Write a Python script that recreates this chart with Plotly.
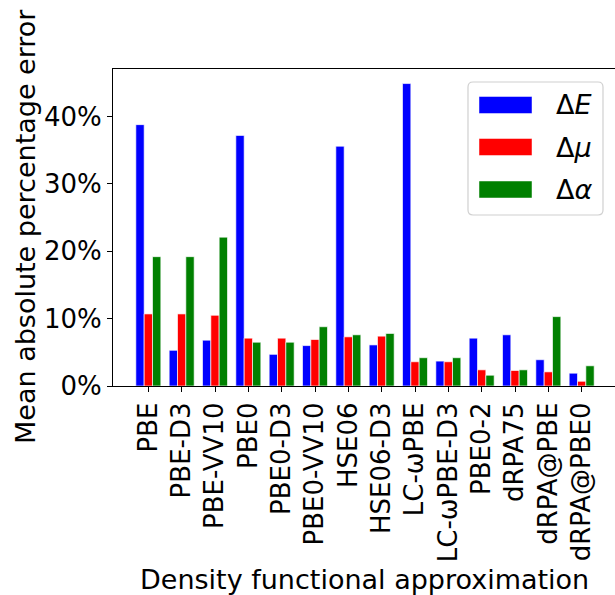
import plotly.graph_objects as go

# Mean absolute percentage errors per density functional approximation
functionals = ["PBE", "PBE-D3", "PBE-VV10", "PBE0", "PBE0-D3", "PBE0-VV10",
               "HSE06", "HSE06-D3", "LC-ωPBE", "LC-ωPBE-D3", "PBE0-2",
               "dRPA75", "dRPA@PBE", "dRPA@PBE0"]
err_energy = [38.8, 5.3, 6.8, 37.2, 4.7, 6.0, 35.6, 6.1, 44.9, 3.7, 7.1, 7.6, 3.9, 1.9]
err_dipole = [10.7, 10.7, 10.5, 7.1, 7.1, 6.9, 7.3, 7.4, 3.6, 3.6, 2.4, 2.3, 2.1, 0.7]
err_polar = [19.2, 19.2, 22.1, 6.5, 6.5, 8.8, 7.6, 7.8, 4.2, 4.2, 1.6, 2.4, 10.3, 3.0]
y_tick_values = [0, 10, 20, 30, 40]
y_tick_labels = ["0%", "10%", "20%", "30%", "40%"]
series_names = ["Δ<i>E</i>", "Δ<i>μ</i>", "Δ<i>α</i>"]
series_colors = ["#0000ff", "#ff0000", "#008000"]

W, H = 615, 595
L, R, T, B = 113, 0, 69, 209
plot_w = W - L - R
plot_h = H - T - B

FONT = "DejaVu Sans"
FS = 26

fig = go.Figure()
for name, vals, col in zip(series_names, [err_energy, err_dipole, err_polar], series_colors):
    fig.add_trace(go.Bar(
        x=functionals, y=vals, name=name,
        marker=dict(color=col, line=dict(color="rgba(255,255,255,0.8)", width=0.8)),
        showlegend=False,
    ))


def px_x(p):
    return (p - L) / plot_w


def px_y(p):
    return (H - B - p) / plot_h


fig.update_layout(
    width=W, height=H,
    margin=dict(l=L, r=R, t=T, b=B),
    paper_bgcolor="white", plot_bgcolor="white",
    barmode="group", bargap=0.25, bargroupgap=0.0,
    font=dict(family=FONT, size=FS, color="black"),
    xaxis=dict(
        type="category", range=[-1.06, 14.0],
        showline=True, linecolor="black", linewidth=1.2, mirror=True,
        ticks="outside", ticklen=5, tickcolor="black", tickwidth=1.2,
        tickangle=-90, showgrid=False, zeroline=False, automargin=False,
        tickfont=dict(family=FONT, size=FS, color="black"),
    ),
    yaxis=dict(
        range=[0, 47.06],
        tickmode="array", tickvals=y_tick_values, ticktext=y_tick_labels,
        showline=True, linecolor="black", linewidth=1.2, mirror=False,
        ticks="outside", ticklen=5, tickcolor="black", tickwidth=1.2,
        showgrid=False, zeroline=False, automargin=False,
        tickfont=dict(family=FONT, size=FS, color="black"),
    ),
)

# Axis titles
fig.add_annotation(text="Density functional approximation", xref="paper", yref="paper",
                   x=0.5, y=px_y(579), xanchor="center", yanchor="middle",
                   showarrow=False, font=dict(family=FONT, size=27, color="black"))
fig.add_annotation(text="Mean absolute percentage error", xref="paper", yref="paper",
                   x=px_x(25), y=px_y(227), xanchor="center", yanchor="middle", textangle=-90,
                   showarrow=False, font=dict(family=FONT, size=27, color="black"))

# Legend drawn as a framed box with wide colour patches
bx0, bx1, by0, by1, rad = 468, 603, 82, 215, 5
fx = lambda p: px_x(p)
fy = lambda p: px_y(p)
path = (f"M {fx(bx0 + rad)},{fy(by0)} L {fx(bx1 - rad)},{fy(by0)} "
        f"Q {fx(bx1)},{fy(by0)} {fx(bx1)},{fy(by0 + rad)} "
        f"L {fx(bx1)},{fy(by1 - rad)} Q {fx(bx1)},{fy(by1)} {fx(bx1 - rad)},{fy(by1)} "
        f"L {fx(bx0 + rad)},{fy(by1)} Q {fx(bx0)},{fy(by1)} {fx(bx0)},{fy(by1 - rad)} "
        f"L {fx(bx0)},{fy(by0 + rad)} Q {fx(bx0)},{fy(by0)} {fx(bx0 + rad)},{fy(by0)} Z")
fig.add_shape(type="path", path=path, xref="paper", yref="paper",
              fillcolor="rgba(255,255,255,0.8)", line=dict(color="#d0d0d0", width=1.2))
legend_centers = [105, 147, 189.5]
for name, col, cy in zip(series_names, series_colors, legend_centers):
    fig.add_shape(type="rect", xref="paper", yref="paper",
                  x0=px_x(479), x1=px_x(532), y0=px_y(cy - 8.5), y1=px_y(cy + 8.5),
                  fillcolor=col, line=dict(color="rgba(255,255,255,0.6)", width=0.8))
    fig.add_annotation(text=name, xref="paper", yref="paper",
                       x=px_x(554), y=px_y(cy), xanchor="left", yanchor="middle",
                       showarrow=False, font=dict(family=FONT, size=27, color="black"))

fig.write_html("out.html")
